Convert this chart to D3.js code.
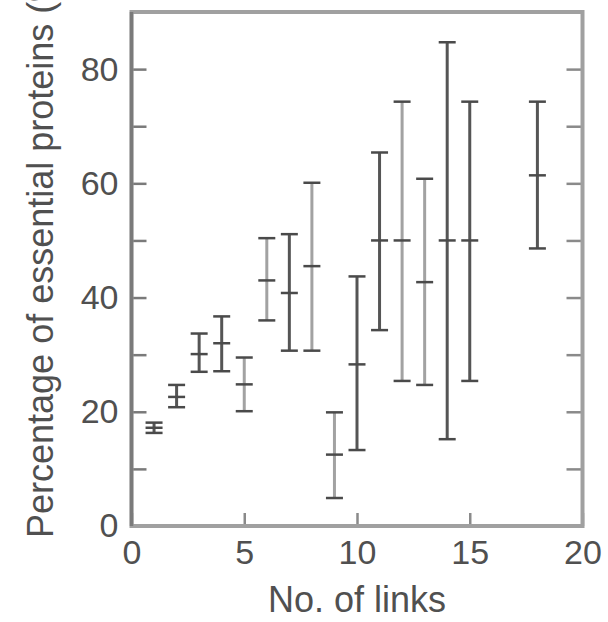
<!DOCTYPE html>
<html>
<head>
<meta charset="utf-8">
<script src="https://d3js.org/d3.v7.min.js"></script>
<style>
  body { margin: 0; background: #fff; }
  text { font-family: "Liberation Sans", Arial, Helvetica, sans-serif; fill: #505050; }
</style>
</head>
<body>
<div id="graph"></div>
<script>

// data: number of links vs % essential proteins
var links    = [1, 2, 3, 4, 5, 6, 7, 8, 9, 10, 11, 12, 13, 14, 15, 18];
var meanPct  = [17.2, 22.6, 30.1, 32.0, 24.8, 43.0, 40.8, 45.5, 12.5, 28.3, 50.0, 50.0, 42.7, 50.0, 50.0, 61.4];
var lowPct   = [16.3, 20.8, 27.0, 27.1, 20.1, 36.0, 30.7, 30.7, 4.9, 13.3, 34.3, 25.4, 24.7, 15.2, 25.4, 48.6];
var highPct  = [18.1, 24.7, 33.7, 36.7, 29.5, 50.4, 51.1, 60.1, 19.9, 43.7, 65.4, 74.3, 60.8, 84.7, 74.3, 74.3];

var xTicks = [0, 5, 10, 15, 20];
var yTicks = [0, 10, 20, 30, 40, 50, 60, 70, 80];

// the bars printed in a lighter grey
var lightBars = [5, 6, 8, 9, 12, 13];

var data = links.map(function(d, i) {
  return { x: d, mean: meanPct[i], low: lowPct[i], high: highPct[i] };
});

// set the dimensions and margins of the graph
var margin = {top: 12, right: 25.5, bottom: 96, left: 131.5},
    width = 608 - margin.left - margin.right,
    height = 622 - margin.top - margin.bottom;

var svg = d3.select("#graph")
  .append("svg")
    .attr("width", 608)
    .attr("height", 622)
  .append("g")
    .attr("transform", "translate(" + margin.left + "," + margin.top + ")");

var x = d3.scaleLinear().domain([0, 20]).range([0, width]);
var y = d3.scaleLinear().domain([0, 90]).range([height, 0]);

// Add X axis (ticks point inward)
var xAxis = svg.append("g")
  .attr("transform", "translate(0," + height + ")")
  .call(d3.axisBottom(x).tickValues(xTicks).tickSizeInner(-13).tickSizeOuter(0).tickPadding(14));
xAxis.select(".domain").remove();
xAxis.selectAll("line").attr("stroke", "#8a8a8a").attr("stroke-width", 2.5);
xAxis.selectAll("text").style("font-size", "34px").attr("fill", "#505050");

// Add Y axis, labels only every 20
var yAxis = svg.append("g")
  .call(d3.axisLeft(y).tickValues(yTicks).tickSizeInner(-15).tickSizeOuter(0).tickPadding(13)
    .tickFormat(function(d) { return d % 20 === 0 ? d : ""; }));
yAxis.select(".domain").remove();
yAxis.selectAll("line").attr("stroke", "#7a7a7a").attr("stroke-width", 2.5);
yAxis.selectAll("text").style("font-size", "34px").attr("fill", "#505050");

// right hand ticks, no labels
var rAxis = svg.append("g")
  .attr("transform", "translate(" + width + ",0)")
  .call(d3.axisRight(y).tickValues(yTicks.slice(1)).tickSizeInner(-16).tickSizeOuter(0).tickFormat(""));
rAxis.select(".domain").remove();
rAxis.selectAll("line").attr("stroke", "#8a8a8a").attr("stroke-width", 2.5);

// frame
svg.append("rect")
  .attr("x", 0).attr("y", 0)
  .attr("width", width).attr("height", height)
  .attr("fill", "none")
  .attr("stroke", "#a0a0a0")
  .attr("stroke-width", 4);
svg.append("line")
  .attr("x1", 0).attr("x2", 0).attr("y1", 0).attr("y2", height)
  .attr("stroke", "#7a7a7a").attr("stroke-width", 3.5);

// error bars
var capW = 8.5;
var bars = svg.selectAll(".bar")
  .data(data)
  .enter()
  .append("g")
    .attr("class", "bar");

bars.append("line")
  .attr("x1", function(d) { return x(d.x); })
  .attr("x2", function(d) { return x(d.x); })
  .attr("y1", function(d) { return y(d.low); })
  .attr("y2", function(d) { return y(d.high); })
  .attr("stroke", function(d) { return lightBars.indexOf(d.x) >= 0 ? "#a2a2a2" : "#555"; })
  .attr("stroke-width", 3);

["low", "mean", "high"].forEach(function(key) {
  bars.append("line")
    .attr("x1", function(d) { return x(d.x) - capW; })
    .attr("x2", function(d) { return x(d.x) + capW; })
    .attr("y1", function(d) { return y(d[key]); })
    .attr("y2", function(d) { return y(d[key]); })
    .attr("stroke", "#4a4a4a")
    .attr("stroke-width", 2.5);
});

// X axis label
svg.append("text")
  .attr("text-anchor", "middle")
  .attr("x", x(10))
  .attr("y", height + 86)
  .style("font-size", "36px")
  .text("No. of links");

// Y axis label (runs off the top like the original)
svg.append("text")
  .attr("text-anchor", "start")
  .attr("transform", "translate(" + (53 - margin.left) + "," + (538 - margin.top) + ") rotate(-90)")
  .style("font-size", "36px")
  .text("Percentage of essential proteins (%)");

</script>
</body>
</html>
